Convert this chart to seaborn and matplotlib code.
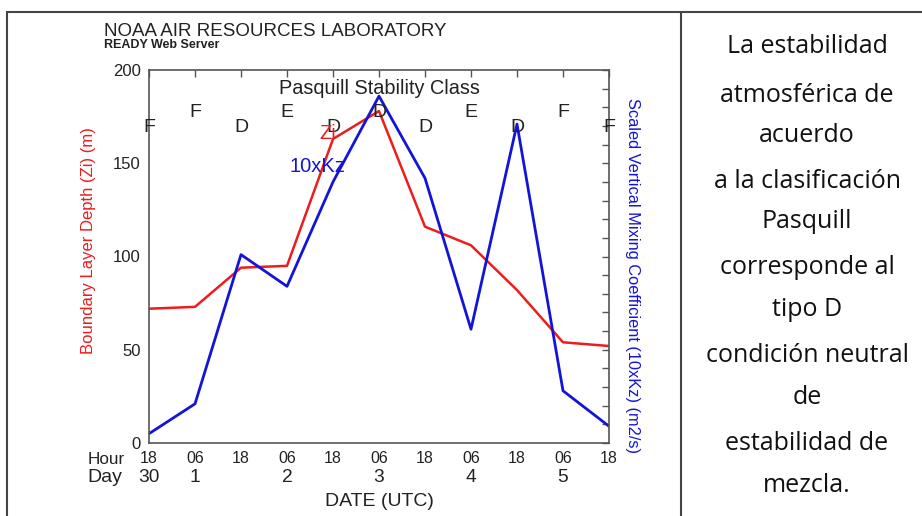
import matplotlib
matplotlib.use("Agg")
import matplotlib.pyplot as plt
from matplotlib.lines import Line2D
import numpy as np
import pandas as pd
import seaborn as sns

# Time axis: 12-hourly steps starting 18 UTC on day 30
hours_since_start = [0, 12, 24, 36, 48, 60, 72, 84, 96, 108, 120]
hour_labels = ["18", "06", "18", "06", "18", "06", "18", "06", "18", "06", "18"]
day_labels = ["30", "1", "", "2", "", "3", "", "4", "", "5", ""]

# Boundary layer depth (Zi) and scaled vertical mixing coefficient (10xKz)
zi_values = [72, 73, 94, 95, 163, 178, 116, 106, 82, 54, 52]
kz10_values = [5, 21, 101, 84, 140, 186, 142, 61, 171, 28, 9]

# Pasquill stability class at each time step
pasquill_class = ["F", "F", "D", "E", "D", "D", "D", "E", "D", "F", "F"]

panel_lines = [
    "La estabilidad", "atmosférica de", "acuerdo", "a la clasificación",
    "Pasquill", "corresponde al", "tipo D", "condición neutral", "de",
    "estabilidad de", "mezcla.",
]
panel_line_y = [47, 95, 136, 182, 222, 268, 310, 356, 397, 443, 486]

df = pd.DataFrame({"t": hours_since_start, "zi": zi_values, "kz": kz10_values})

sns.set_theme(style="white")
plt.rcParams["font.family"] = ["Liberation Sans", "DejaVu Sans"]

W, H = 922, 516
fig = plt.figure(figsize=(W / 100, H / 100), dpi=100)

def fx(px):
    return px / W

def fy(py):
    return 1 - py / H

ink = "#222222"
red = "#ee1c1c"
blue = "#1414d8"

ax = fig.add_axes([fx(149), fy(443), fx(609) - fx(149), fy(70) - fy(443)])

sns.lineplot(data=df, x="t", y="zi", ax=ax, color=red, linewidth=1.8)
sns.lineplot(data=df, x="t", y="kz", ax=ax, color=blue, linewidth=2.0)

ax.set_xlim(0, 120)
ax.set_ylim(0, 200)
ax.set_xlabel("")
ax.set_ylabel("")

spine_color = "#555555"
for s in ax.spines.values():
    s.set_color(spine_color)
    s.set_linewidth(1.2)

ax.set_xticks(hours_since_start)
ax.set_xticklabels(hour_labels)
ax.set_yticks(np.arange(0, 201, 10))
ax.set_yticklabels([str(v) if v % 50 == 0 else "" for v in range(0, 201, 10)])
ax.tick_params(axis="both", which="both", direction="in", length=5, width=1,
               color=spine_color, top=True, right=True, labelcolor=ink)
ax.tick_params(axis="x", pad=6, labelsize=11.5)
ax.tick_params(axis="y", pad=6, labelsize=12)

# Stability class letters, alternating rows
for i, (t, c) in enumerate(zip(hours_since_start, pasquill_class)):
    yv = 177 if i % 2 == 1 else 169
    ax.text(t, yv, c, ha="center", va="center", fontsize=14, color=ink,
            clip_on=False)

ax.text(60, 190, "Pasquill Stability Class", ha="center", va="center",
        fontsize=14.3, color=ink)
ax.text(46.5, 166, "Zi", ha="center", va="center", fontsize=14.5, color=red)
ax.text(44, 148.5, "10xKz", ha="center", va="center", fontsize=14.5, color=blue)

# Hour / Day rows and axis titles
fig.text(fx(106), fy(459), "Hour", ha="center", va="center", fontsize=12.3, color=ink)
fig.text(fx(105), fy(477), "Day", ha="center", va="center", fontsize=14, color=ink)
for t, d in zip(hours_since_start, day_labels):
    if d:
        xpix = 149 + t / 120 * 460
        fig.text(fx(xpix), fy(477), d, ha="center", va="center", fontsize=13.8,
                 color=ink)
fig.text(fx(379), fy(501), "DATE (UTC)", ha="center", va="center", fontsize=14,
         color=ink)

fig.text(fx(88), fy(241), "Boundary Layer Depth (Zi) (m)", rotation=90,
         ha="center", va="center", fontsize=12, color=red)
fig.text(fx(632), fy(276), "Scaled Vertical Mixing Coefficient (10xKz) (m2/s)",
         rotation=-90, ha="center", va="center", fontsize=11.8, color=blue)

fig.text(fx(104), fy(31), "NOAA AIR RESOURCES LABORATORY", ha="left", va="center",
         fontsize=13.5, color=ink)
fig.text(fx(104), fy(45), "READY Web Server", ha="left", va="center",
         fontsize=9, fontweight="bold", color=ink)

# Table borders around the chart and the text panel
border = dict(color="#444444", linewidth=1.5, transform=fig.transFigure)
fig.add_artist(Line2D([fx(7), fx(922)], [fy(12), fy(12)], **border))
fig.add_artist(Line2D([fx(7), fx(7)], [fy(12), fy(516)], **border))
fig.add_artist(Line2D([fx(681), fx(681)], [fy(12), fy(516)], **border))

for line, yp in zip(panel_lines, panel_line_y):
    fig.text(fx(807), fy(yp), line, ha="center", va="center", fontsize=18,
             family=["Open Sans", "DejaVu Sans"], color="#111111")

fig.savefig("out.png", dpi=100)
